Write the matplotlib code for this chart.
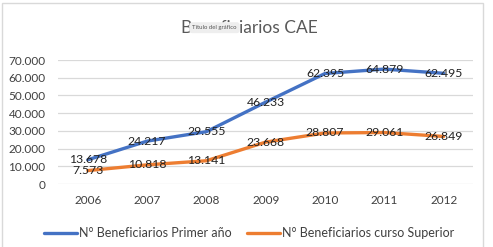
import matplotlib
matplotlib.use('Agg')
import matplotlib.pyplot as plt
from matplotlib.patches import Rectangle

plt.rcParams['font.family'] = ['Lato', 'DejaVu Sans']

# ── datos ──
years = ['2006', '2007', '2008', '2009', '2010', '2011', '2012']
primer_anio = [13678, 24217, 29555, 46233, 62395, 64879, 62495]
curso_superior = [7573, 10818, 13141, 23668, 28807, 29061, 26849]
yticks = [0, 10000, 20000, 30000, 40000, 50000, 60000, 70000]

BLUE = '#4472C4'
ORANGE = '#ED7D31'
TXT = '#404040'


def fmt(v):
    return f'{v:,}'.replace(',', '.')


fig = plt.figure(figsize=(4.93, 2.47), dpi=100)
ax = fig.add_axes([0.118, 0.255, 0.842, 0.502])

# marco del gráfico
fig.patches.append(Rectangle((0.004, -0.01), 0.976, 0.998, transform=fig.transFigure,
                             fill=False, edgecolor='#d9d9d9', linewidth=1))

x = list(range(len(years)))
ax.plot(x, primer_anio, color=BLUE, linewidth=2.4, solid_capstyle='round',
        label='N° Beneficiarios Primer año', zorder=3)
ax.plot(x, curso_superior, color=ORANGE, linewidth=2.4, solid_capstyle='round',
        label='N° Beneficiarios curso Superior', zorder=3)

for xi, v in zip(x, primer_anio):
    ax.text(xi, v, fmt(v), ha='center', va='center', fontsize=8.8, color='#222222', zorder=4)
for xi, v in zip(x, curso_superior):
    ax.text(xi, v, fmt(v), ha='center', va='center', fontsize=8.8, color='#222222', zorder=4)

ax.set_xlim(-0.5, len(years) - 0.5)
ax.set_ylim(0, 70000)
ax.set_yticks(yticks)
ax.set_yticklabels([fmt(t) for t in yticks], fontsize=8.5, color=TXT)
ax.set_xticks(x)
ax.set_xticklabels(years, fontsize=8.5, color=TXT)
ax.tick_params(axis='y', length=0, pad=9)
ax.tick_params(axis='x', length=0, pad=8)
ax.grid(axis='y', color='#d9d9d9', linewidth=0.9)
ax.set_axisbelow(True)
for s in ax.spines.values():
    s.set_visible(False)

fig.text(0.505, 0.885, 'Beneficiarios CAE', ha='center', va='center',
         fontsize=12.5, color='#595959')
fig.text(0.435, 0.888, 'Título del gráfico', ha='center', va='center', fontsize=4.3,
         color='#555555',
         bbox=dict(boxstyle='round,pad=0.5', facecolor='#eeeeee', edgecolor='none'))

ax.legend(loc='center', bbox_to_anchor=(0.46, -0.395), ncol=2, frameon=False,
          fontsize=9, handlelength=2.6, columnspacing=1.3, handletextpad=0.15,
          labelcolor=TXT)

fig.savefig('out.png', dpi=100, facecolor='white')
